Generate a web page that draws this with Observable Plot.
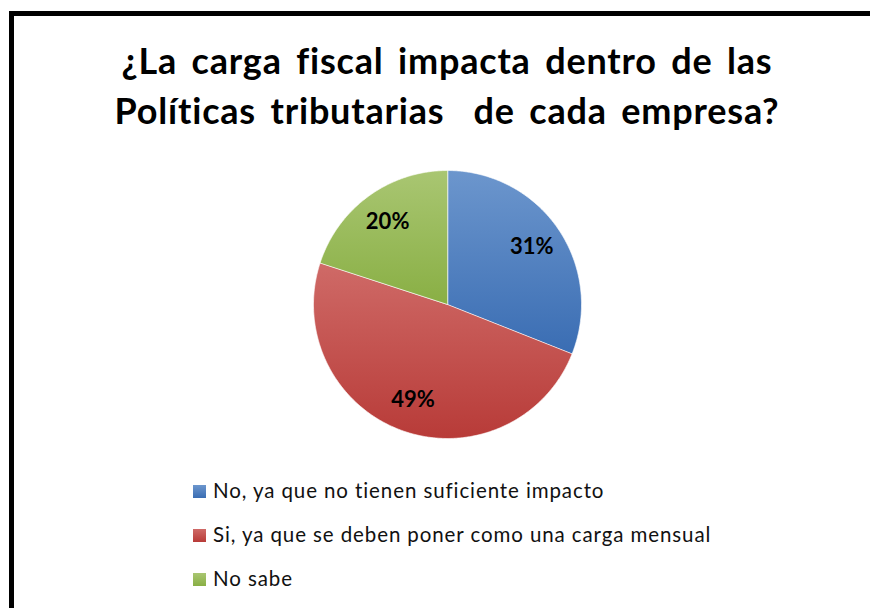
<!DOCTYPE html>
<html>
<head>
<meta charset="utf-8">
<script src="https://cdn.jsdelivr.net/npm/d3@7"></script>
<script src="https://cdn.jsdelivr.net/npm/@observablehq/plot@0.6"></script>
<style>
  html, body { margin: 0; padding: 0; background: #fff; }
  #wrap { position: relative; width: 870px; height: 608px; overflow: hidden; background: #fff; }
  #frame { position: absolute; left: 9px; top: 11px; width: 1000px; height: 1000px; border: 5px solid #000; }
  #title { position: absolute; left: 0; width: 894px; top: 35px; text-align: center;
           font-family: Lato, sans-serif; font-weight: 700; font-size: 36px; line-height: 50px;
           letter-spacing: 0.8px; word-spacing: 5px; color: #000; white-space: nowrap; }
  #chart { position: absolute; left: 0; top: 0; }
  #legend { position: absolute; left: 193px; top: 478px; font-family: Lato, sans-serif; font-size: 20.5px;
            letter-spacing: 0.9px; color: #111; }
  .row { position: relative; height: 44px; line-height: 24px; }
  .sw { position: absolute; left: 0; top: 7px; width: 13px; height: 13px; }
  .lab { position: absolute; left: 20px; top: 0; white-space: nowrap; }
</style>
</head>
<body>
<div id="wrap">
  <div id="frame"></div>
  <div id="chart"></div>
  <div id="title">¿La carga fiscal impacta dentro de las<br>Políticas tributarias&nbsp; de cada empresa?</div>
  <div id="legend"></div>
</div>
<script>
// ---- data ----
const categories = [
  "No, ya que no tienen suficiente impacto",
  "Si, ya que se deben poner como una carga mensual",
  "No sabe"
];
const values = [31, 49, 20];
const labels = ["31%", "49%", "20%"];
const colorsTop = ["#6C96CD", "#CF6A67", "#A9C672"];
const colorsBottom = ["#3A6DB3", "#B83B38", "#89AF44"];

// ---- geometry derived from values ----
const total = d3.sum(values);
const pts = [];
const labelPts = [];
let acc = 0;
values.forEach((v, i) => {
  const a0 = acc / total * 2 * Math.PI;
  acc += v;
  const a1 = acc / total * 2 * Math.PI;
  pts.push({cat: categories[i], x: 0, y: 0});
  const n = Math.max(2, Math.ceil((a1 - a0) / (Math.PI / 360)));
  for (let k = 0; k <= n; k++) {
    const a = a0 + (a1 - a0) * k / n;
    pts.push({cat: categories[i], x: Math.sin(a), y: Math.cos(a)});
  }
  const am = (a0 + a1) / 2;
  labelPts.push({label: labels[i], x: 0.76 * Math.sin(am), y: 0.76 * Math.cos(am)});
});

const cx = 447, cy = 304, r = 134;
const svg = Plot.plot({
  width: 870,
  height: 608,
  margin: 0,
  x: {domain: [-1, 1], range: [cx - r, cx + r], axis: null},
  y: {domain: [-1, 1], range: [cy + r, cy - r], axis: null},
  color: {domain: categories, range: categories.map((c, i) => `url(#g${i})`)},
  style: {background: "transparent"},
  marks: [
    Plot.line(pts, {x: "x", y: "y", z: "cat", fill: "cat", stroke: "#ffffff", strokeWidth: 0.8, strokeOpacity: 0.8, curve: "linear-closed"}),
    Plot.text(labelPts, {x: "x", y: "y", text: "label", fontSize: 22, fontWeight: "bold", fontFamily: "Lato, sans-serif", fill: "#000"})
  ]
});
const ns = "http://www.w3.org/2000/svg";
const defs = document.createElementNS(ns, "defs");
categories.forEach((c, i) => {
  const g = document.createElementNS(ns, "linearGradient");
  g.setAttribute("id", `g${i}`);
  g.setAttribute("x1", "0"); g.setAttribute("y1", "0");
  g.setAttribute("x2", "0"); g.setAttribute("y2", "1");
  [[0, colorsTop[i]], [1, colorsBottom[i]]].forEach(([o, col]) => {
    const s = document.createElementNS(ns, "stop");
    s.setAttribute("offset", o);
    s.setAttribute("stop-color", col);
    g.appendChild(s);
  });
  defs.appendChild(g);
});
svg.insertBefore(defs, svg.firstChild);
document.getElementById("chart").appendChild(svg);

const legend = document.getElementById("legend");
categories.forEach((c, i) => {
  const row = document.createElement("div");
  row.className = "row";
  row.innerHTML = `<div class="sw" style="background:linear-gradient(${colorsTop[i]},${colorsBottom[i]})"></div><div class="lab"></div>`;
  row.querySelector(".lab").textContent = c;
  legend.appendChild(row);
});
</script>
</body>
</html>
